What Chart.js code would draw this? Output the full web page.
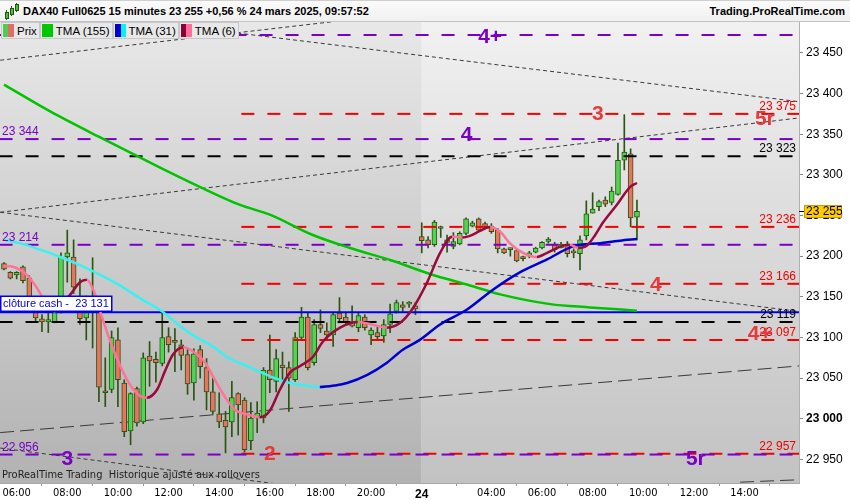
<!DOCTYPE html>
<html>
<head>
<meta charset="utf-8">
<script src="https://cdn.jsdelivr.net/npm/chart.js@4.4.1/dist/chart.umd.min.js"></script>
<style>
  body { margin: 0; background: #fff; }
  #wrap { position: relative; width: 850px; height: 500px; overflow: hidden; font-family: "Liberation Sans", Arial, sans-serif; }
  #c { position: absolute; left: 0; top: 0; }
  #head { position: absolute; left: 0; top: 0; width: 850px; height: 22px; box-sizing: border-box;
          background: linear-gradient(#fbfbfb, #f0f0f0); border-top: 1px solid #cfcfcf; border-bottom: 1px solid #c4c4c4; }
  #head .title { position: absolute; left: 23px; top: 4px; font-size: 11px; font-weight: bold; color: #000; white-space: nowrap; }
  #head .site { position: absolute; right: 5px; top: 4px; font-size: 11px; font-weight: bold; color: #000; }
  .ic { position: absolute; background: #3cc43c; border: 1px solid #2a5410; width: 2px; }
  .icw { position: absolute; background: #2a5410; width: 1px; }
  #legend { position: absolute; left: 1px; top: 22px; display: flex; }
  .lg { height: 17px; box-sizing: border-box; border: 1px solid #c8c8c8; background: #e8e8e8; display: flex; align-items: center;
        padding: 0 2px 0 1px; font-size: 11.5px; color: #000; margin-right: 0; }
  .lg i { display: inline-block; width: 11px; height: 13px; margin-right: 3px; }
</style>
</head>
<body>
<div id="wrap">
  <canvas id="c" width="850" height="500"></canvas>
  <div id="head">
    <div class="icw" style="left:6px;top:9px;height:10px"></div><div class="ic" style="left:5px;top:11px;height:5px"></div>
    <div class="icw" style="left:11px;top:5px;height:10px"></div><div class="ic" style="left:10px;top:7px;height:5px"></div>
    <div class="icw" style="left:16px;top:2px;height:9px"></div><div class="ic" style="left:15px;top:3px;height:5px"></div>
    <span class="title">DAX40 Full0625 15 minutes 23 255 +0,56 % 24 mars 2025, 09:57:52</span>
    <span class="site">Trading.ProRealTime.com</span>
  </div>
  <div id="legend">
    <div class="lg"><i style="background:linear-gradient(90deg,#4ccf4c 50%,#e46a6a 50%)"></i>Prix</div>
    <div class="lg"><i style="background:#00c800"></i>TMA (155)</div>
    <div class="lg"><i style="background:linear-gradient(90deg,#0000d0 50%,#00f4f4 50%)"></i>TMA (31)</div>
    <div class="lg"><i style="background:linear-gradient(90deg,#8c0033 50%,#ff6f9a 50%)"></i>TMA (6)</div>
  </div>
</div>
<script>
// 15 min candles, Friday 05:30 -> 21:45 then Monday 01:15 -> 09:45 (one slot per candle)
const open = [23191, 23180, 23177, 23187, 23173, 23132, 23123, 23119, 23119, 23131,
  23199, 23199, 23145, 23124, 23146, 23141, 23033, 23036, 23097, 23044,
  22985, 23037, 22996, 23077, 23073, 23068, 23101, 23095, 23091, 23079,
  23044, 23085, 23063, 23033, 23006, 22998, 22996, 23031, 23023, 22973,
  23001, 23001, 23060, 23046, 23066, 23063, 23048, 23100, 23125, 23069,
  23116, 23108, 23103, 23130, 23125, 23119, 23112, 23125, 23103, 23106,
  23102, 23116, 23132, 23140, 23141, 23139,
  23224, 23220, 23214, 23236, 23217, 23212, 23215, 23228, 23237, 23246,
  23240, 23237, 23232, 23209, 23209, 23207, 23198, 23200, 23205, 23210,
  23218, 23214, 23210, 23214, 23205, 23203, 23225, 23253, 23261, 23269,
  23266, 23276, 23318, 23326, 23248];
const high = [23192, 23181, 23181, 23188, 23176, 23143, 23128, 23132, 23140, 23204,
  23232, 23220, 23172, 23151, 23198, 23146, 23075, 23108, 23112, 23048,
  23032, 23039, 23081, 23095, 23082, 23130, 23112, 23111, 23097, 23087,
  23086, 23090, 23074, 23050, 23032, 23009, 23046, 23032, 23026, 23020,
  23021, 23063, 23103, 23085, 23082, 23070, 23106, 23137, 23130, 23122,
  23134, 23118, 23130, 23149, 23130, 23139, 23130, 23128, 23112, 23113,
  23122, 23141, 23146, 23144, 23144, 23143,
  23241, 23224, 23244, 23237, 23226, 23229, 23230, 23247, 23243, 23247,
  23242, 23240, 23234, 23210, 23210, 23208, 23200, 23206, 23211, 23218,
  23223, 23217, 23217, 23218, 23209, 23225, 23268, 23278, 23269, 23273,
  23285, 23339, 23374, 23332, 23269];
const low = [23183, 23172, 23172, 23167, 23140, 23119, 23107, 23106, 23118, 23130,
  23168, 23154, 23116, 23097, 23087, 23021, 23015, 23032, 23015, 22978,
  22968, 22991, 22994, 23040, 23045, 23065, 23082, 23058, 23060, 23030,
  23023, 23050, 23011, 23006, 22989, 22958, 22978, 22980, 22959, 22962,
  22983, 22995, 23032, 23033, 23046, 23009, 23046, 23097, 23060, 23066,
  23106, 23097, 23089, 23118, 23116, 23113, 23107, 23109, 23091, 23097,
  23094, 23106, 23130, 23132, 23137, 23128,
  23204, 23210, 23212, 23223, 23205, 23209, 23214, 23226, 23236, 23230,
  23235, 23228, 23204, 23203, 23200, 23193, 23194, 23198, 23204, 23209,
  23216, 23205, 23210, 23199, 23198, 23183, 23220, 23253, 23256, 23261,
  23263, 23275, 23306, 23236, 23220];
const close = [23184, 23173, 23180, 23170, 23149, 23124, 23119, 23122, 23137, 23199,
  23204, 23162, 23123, 23132, 23139, 23039, 23032, 23100, 23048, 22984,
  23031, 22995, 23075, 23071, 23069, 23100, 23091, 23094, 23078, 23043,
  23080, 23064, 23033, 23009, 22996, 22990, 23026, 23017, 22962, 23001,
  23007, 23060, 23048, 23074, 23063, 23050, 23100, 23125, 23063, 23116,
  23111, 23103, 23128, 23123, 23119, 23114, 23127, 23112, 23109, 23101,
  23116, 23129, 23143, 23137, 23142, 23135,
  23219, 23214, 23242, 23234, 23220, 23218, 23228, 23246, 23241, 23232,
  23236, 23230, 23209, 23204, 23208, 23194, 23197, 23204, 23210, 23217,
  23221, 23208, 23215, 23203, 23204, 23220, 23252, 23258, 23267, 23264,
  23280, 23318, 23328, 23247, 23255];

// x axis labels and the slot they sit on
const tickLabels = ['06:00', '08:00', '10:00', '12:00', '14:00', '16:00', '18:00', '20:00',
  '24', '04:00', '06:00', '08:00', '10:00', '12:00', '14:00'];
const tickSlots = [2, 10, 18, 26, 34, 42, 50, 58, 66, 77, 85, 93, 101, 109, 117];
const sessionBreak = 66;

// triangular moving averages (slot, value)
const tma155Slot = [0, 7.3, 15.2, 23.1, 31, 37.3, 42, 48.8, 54.7, 61.5, 67.3, 73.6, 78.4, 86.3, 92.6, 100];
const tma155Val = [23411, 23378, 23346, 23315, 23285, 23263, 23251, 23226, 23210, 23194, 23178, 23164, 23153, 23141, 23137, 23133];
const tma31Slot = [0, 2.5, 5.7, 8.9, 12, 15.2, 18.3, 21.5, 25, 27.8, 30.2, 33, 35.4, 38.4, 40.4, 42.8, 45.2, 47.6, 49.9, 52.3,
  54.2, 57.4, 60.5, 63, 65.7, 68.9, 73.1, 77.3, 81.5, 85.8, 89.9, 94.2, 97.3, 100];
const tma31Val = [23220, 23216, 23208, 23199, 23189, 23177, 23164, 23148, 23132, 23114, 23101, 23089, 23075, 23065, 23058, 23050, 23044, 23041, 23039, 23041,
  23044, 23054, 23069, 23085, 23097, 23116, 23134, 23159, 23180, 23196, 23212, 23216, 23219, 23221];
const tma6Slot = [0, 1.4, 3.6, 5.2, 6.8, 8.1, 9.3, 10.4, 12, 13.1, 14.1, 15.2, 16.8, 18.3, 19.9, 21.5, 22.6, 24.2, 25.4, 26.7,
  28.3, 30.2, 31.8, 33.3, 34.9, 36.5, 38.6, 40.4, 42, 43.6, 45.2, 46.8, 48.8, 50.4, 53.1, 55.9, 58.1, 60.5, 62.6, 64.6,
  66.8, 68.9, 70.8, 72.4, 73.6, 75.2, 76.8, 78.4, 79.9, 82, 84.2, 85.8, 88.3, 89.4, 90.7, 92.1, 93.4, 94.6, 96.8, 98.9, 100];
const tma6Val = [23188, 23187, 23177, 23161, 23140, 23132, 23143, 23152, 23168, 23171, 23159, 23132, 23095, 23066, 23042, 23028, 23026, 23036, 23058, 23079,
  23088, 23081, 23069, 23048, 23027, 23011, 23005, 23002, 23010, 23036, 23057, 23065, 23076, 23095, 23112, 23119, 23116, 23112, 23118, 23136,
  23167, 23204, 23224, 23223, 23225, 23231, 23236, 23230, 23216, 23204, 23199, 23204, 23213, 23214, 23210, 23213, 23226, 23241, 23263, 23285, 23290];

// horizontal levels
const purpleLevels = [23472, 23344, 23214, 22956];
const redLevels = [23375, 23236, 23166, 23097, 22957];
const blackLevels = [23323, 23119];
const cashClose = 23131;
const redStartSlot = 37.5;

// big level tags: text, slot, price at the text centre
const tagText = ['4+', '3', '4', '5r', '4', '4+', '2', '3', '5r'];
const tagSlot = [76.8, 93.8, 73.1, 120.2, 103, 119.4, 42, 10, 109.3];
const tagPrice = [23470, 23376, 23350, 23370, 23166, 23105, 22958, 22951, 22952];
const tagPurple = [true, false, true, false, false, false, false, true, true];

// drawn trend lines: [slot, price] start and end
const trendLines = [
  [[-0.6, 23441], [62.6, 23498]],
  [[22.6, 23488], [125.6, 23390]],
  [[-0.6, 23254], [125.6, 23370]],
  [[-0.6, 23254], [125.6, 23132]],
  [[-0.6, 22983], [125.6, 23065]],
  [[-0.6, 22964], [49.9, 22913]],
  [[116.3, 22922], [125.6, 22925]]
];
const trendLong = [false, false, false, false, true, false, true];

const yTicks = [22950, 23000, 23050, 23100, 23150, 23200, 23250, 23300, 23350, 23400, 23450];

const SANS = '"Liberation Sans", Arial, sans-serif';
const NARROW = '"Liberation Sans Narrow", "DejaVu Sans Condensed", "Liberation Sans", sans-serif';
const PURPLE = '#7a00c6', RED = '#f40000', TAGRED = '#e8393a';
const GREEN = '#4fd64f', SALMON = '#e8735f', WICK = '#2a5410';

function fmt(v) {
  return String(Math.round(v)).replace(/\B(?=(\d{3})+(?!\d))/g, ' ');
}

function levelSet(levels, color, start) {
  return levels.map(v => ({
    type: 'line',
    data: [{x: start, y: v}, {x: 125.7, y: v}],
    borderColor: color, borderWidth: 2, borderDash: [13, 13],
    pointRadius: 0, order: 2, clip: 0
  }));
}

function tmaSet(slots, vals, up, down, width) {
  return {
    type: 'line',
    data: slots.map((s, i) => ({x: s, y: vals[i]})),
    borderColor: up, borderWidth: width, pointRadius: 0,
    cubicInterpolationMode: 'monotone', order: 0,
    segment: { borderColor: c => c.p1.parsed.y >= c.p0.parsed.y ? up : down }
  };
}

var datasets = [];
datasets.push(tmaSet(tma6Slot, tma6Val, '#990a3c', '#ff7399', 2.5));
datasets.push(tmaSet(tma31Slot, tma31Val, '#0000d0', '#38f2f2', 2.5));
datasets.push(tmaSet(tma155Slot, tma155Val, '#00c400', '#00c400', 2.5));
datasets.push({
  type: 'line', data: [{x: -0.7, y: cashClose}, {x: 125.7, y: cashClose}],
  borderColor: '#0000e6', borderWidth: 2, pointRadius: 0, order: 1
});
datasets = datasets.concat(levelSet(purpleLevels, PURPLE, -0.7));
datasets = datasets.concat(levelSet(redLevels, RED, redStartSlot));
datasets = datasets.concat(levelSet(blackLevels, '#000000', -0.7));

// candle bodies and wicks
datasets.push({
  type: 'bar',
  data: open.map((o, i) => ({x: i, y: [Math.min(o, close[i]), Math.max(o, close[i])]})),
  backgroundColor: open.map((o, i) => close[i] >= o ? GREEN : SALMON),
  borderColor: WICK, borderWidth: 1, borderSkipped: false,
  barThickness: 5, grouped: false, minBarLength: 2, order: 3
});
datasets.push({
  type: 'bar',
  data: low.map((l, i) => ({x: i, y: [l, high[i]]})),
  backgroundColor: WICK, borderWidth: 0,
  barThickness: 1, grouped: false, order: 4
});
trendLines.forEach((t, k) => {
  datasets.push({
    type: 'line',
    data: [{x: t[0][0], y: t[0][1]}, {x: t[1][0], y: t[1][1]}],
    borderColor: '#3a3a3a', borderWidth: 1,
    borderDash: trendLong[k] ? [14, 6] : [4, 3],
    pointRadius: 0, order: 5
  });
});

const bgPlugin = {
  id: 'bg',
  beforeDraw(chart) {
    const {ctx, chartArea: a} = chart;
    const split = chart.scales.x.getPixelForValue(sessionBreak);
    let g = ctx.createLinearGradient(0, a.top, 0, a.bottom);
    g.addColorStop(0, '#e8e8e8');
    g.addColorStop(1, '#b2b2b2');
    ctx.fillStyle = g;
    ctx.fillRect(a.left, a.top, split - a.left, a.bottom - a.top);
    g = ctx.createLinearGradient(0, a.top, 0, a.bottom);
    g.addColorStop(0, '#f1f1f1');
    g.addColorStop(1, '#c2c2c2');
    ctx.fillStyle = g;
    ctx.fillRect(split, a.top, a.right - split, a.bottom - a.top);
  }
};

const textPlugin = {
  id: 'texts',
  afterDatasetsDraw(chart) {
    const {ctx, chartArea: a, scales: {x, y}} = chart;
    ctx.save();
    ctx.textBaseline = 'middle';
    ctx.font = '12px ' + SANS;
    // value labels of the levels
    ctx.textAlign = 'right';
    redLevels.forEach(v => { ctx.fillStyle = RED; ctx.fillText(fmt(v), a.right - 3, y.getPixelForValue(v) - 7); });
    blackLevels.forEach(v => { ctx.fillStyle = '#000'; ctx.fillText(fmt(v), a.right - 3, y.getPixelForValue(v) - 7); });
    ctx.textAlign = 'left';
    purpleLevels.slice(1).forEach(v => { ctx.fillStyle = PURPLE; ctx.fillText(fmt(v), a.left + 2, y.getPixelForValue(v) - 7); });

    // cash close box
    const yc = y.getPixelForValue(cashClose);
    ctx.fillStyle = '#fff';
    ctx.fillRect(a.left, yc - 16, 112, 15);
    ctx.strokeStyle = '#0000e6';
    ctx.lineWidth = 1.5;
    ctx.strokeRect(a.left + 0.75, yc - 16, 111, 15);
    ctx.fillStyle = '#0000e6';
    ctx.font = '11px ' + SANS;
    ctx.fillText('clôture cash -  ' + fmt(cashClose), a.left + 3, yc - 8);

    // big tags
    ctx.textAlign = 'center';
    ctx.font = 'bold 21px ' + SANS;
    tagText.forEach((t, i) => {
      ctx.fillStyle = tagPurple[i] ? PURPLE : TAGRED;
      ctx.fillText(t, x.getPixelForValue(tagSlot[i]), y.getPixelForValue(tagPrice[i]) + 1);
    });

    ctx.textAlign = 'left';
    ctx.font = '11px ' + NARROW;
    ctx.fillStyle = '#222';
    ctx.fillText('ProRealTime Trading  Historique ajusté aux rollovers', a.left + 2, a.bottom - 8);
    ctx.restore();
  },
  afterDraw(chart) {
    const {ctx, chartArea: a, scales: {y}} = chart;
    const yp = Math.round(y.getPixelForValue(close[close.length - 1]));
    ctx.save();
    ctx.strokeStyle = '#000';
    ctx.lineWidth = 1;
    ctx.beginPath();
    ctx.moveTo(a.right, yp + 0.5);
    ctx.lineTo(a.right + 5, yp + 0.5);
    ctx.stroke();
    ctx.fillStyle = '#ffcc00';
    ctx.fillRect(a.right + 5, yp - 6, 38, 13);
    ctx.strokeStyle = '#c9a000';
    ctx.strokeRect(a.right + 5.5, yp - 5.5, 37, 12);
    ctx.fillStyle = '#000';
    ctx.font = '12px ' + SANS;
    ctx.textBaseline = 'middle';
    ctx.fillText(fmt(close[close.length - 1]), a.right + 7, yp + 1);
    ctx.restore();
  }
};

new Chart(document.getElementById('c'), {
  type: 'bar',
  data: { datasets: datasets },
  options: {
    responsive: false,
    animation: false,
    events: [],
    layout: { padding: { top: 22, left: 0, right: 0, bottom: 0 } },
    plugins: { legend: { display: false }, tooltip: { enabled: false } },
    scales: {
      x: {
        type: 'linear', min: -0.63, max: 125.6, offset: false,
        grid: { drawOnChartArea: false, drawTicks: true, tickLength: 3, color: '#999' },
        border: { display: true, color: '#a8a8a8' },
        afterBuildTicks: s => { s.ticks = tickSlots.map(v => ({ value: v })); },
        afterFit: s => { s.height = 17; },
        ticks: {
          autoSkip: false, maxRotation: 0, padding: 1, color: '#000',
          callback: (v, i) => tickLabels[i],
          font: c => ({ family: c.tick && c.tick.value === sessionBreak ? SANS : NARROW, size: c.tick && c.tick.value === sessionBreak ? 12 : 11,
                        weight: c.tick && c.tick.value === sessionBreak ? 'bold' : 'normal' })
        }
      },
      y: {
        position: 'right', min: 22921, max: 23488,
        grid: { drawOnChartArea: false, drawTicks: true, tickLength: 4, color: '#888' },
        border: { display: true, color: '#b0b0b0' },
        afterBuildTicks: s => { s.ticks = yTicks.map(v => ({ value: v })); },
        afterFit: s => { s.width = 51; },
        ticks: {
          padding: 3, color: '#000',
          callback: v => fmt(v),
          font: c => ({ family: SANS, size: 12, weight: c.tick && c.tick.value === 23000 ? 'bold' : 'normal' })
        }
      }
    }
  },
  plugins: [bgPlugin, textPlugin]
});
</script>
</body>
</html>
